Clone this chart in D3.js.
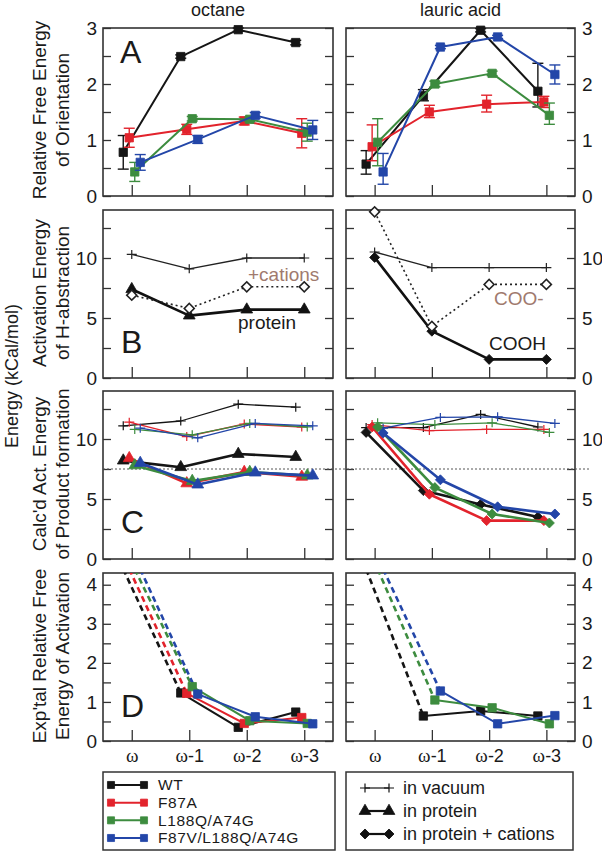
<!DOCTYPE html>
<html><head><meta charset="utf-8">
<script src="https://cdn.jsdelivr.net/npm/d3@7"></script>
<style>
body{margin:0;background:#fff}
svg{display:block}
text{font-family:"Liberation Sans",Arial,Helvetica,sans-serif;fill:#1a1a1a}
</style>
</head><body>
<svg id="c" width="602" height="852"></svg>
<script>
// ---------------- DATA ----------------
const categories = ["ω","ω-1","ω-2","ω-3"];
const mutants = ["WT","F87A","L188Q/A74G","F87V/L188Q/A74G"];
const mutantColors = ["#151515","#e2232c","#3d8c3f","#2346a8"];
const conditions = ["in vacuum","in protein","in protein + cations"];
const columnTitles = ["octane","lauric acid"];

// A: relative free energy of orientation
const orientOctane = [
  [0.78, 2.49, 2.97, 2.74],
  [1.04, 1.19, 1.34, 1.12],
  [0.43, 1.38, 1.37, 1.14],
  [0.60, 1.01, 1.44, 1.18]
];
const orientOctaneErr = [
  [0.30, 0.03, 0.03, 0.04],
  [0.17, 0.09, 0.07, 0.26],
  [0.17, 0.04, 0.04, 0.16],
  [0.14, 0.07, 0.05, 0.17]
];
const orientLauric = [
  [0.57, 1.79, 2.96, 1.87],
  [0.88, 1.50, 1.64, 1.68],
  [0.96, 2.00, 2.19, 1.44],
  [0.43, 2.66, 2.84, 2.17]
];
const orientLauricErr = [ // [below, above]
  [[0.18,0.24],[0.09,0.11],[0.03,0.03],[0.28,0.50]],
  [[0.25,0.39],[0.10,0.12],[0.14,0.16],[0.10,0.10]],
  [[0.42,0.42],[0.05,0.05],[0.04,0.04],[0.16,0.22]],
  [[0.22,0.33],[0.03,0.03],[0.03,0.03],[0.17,0.17]]
];

// B: activation energy of H-abstraction
const habsOctaneVacuum  = [10.3, 9.1, 10.0, 10.0];
const habsOctaneProtein = [7.4, 5.2, 5.7, 5.7];
const habsOctaneCations = [6.9, 5.8, 7.6, 7.6];
const habsLauricVacuum  = [10.5, 9.2, 9.2, 9.2];
const habsLauricCOOH    = [10.05, 3.9, 1.55, 1.55];
const habsLauricCOO     = [13.85, 4.3, 7.8, 7.8];

// C: calculated activation energy of product formation
const prodOctaneVacuum = [
  [11.1, 11.5, 12.9, 12.65],
  [11.4, 10.2, 11.25, 11.0],
  [10.8, 10.35, 11.3, 11.0],
  [10.9, 10.1, 11.3, 11.1]
];
const prodOctaneProtein = [
  [8.2, 7.65, 8.75, 8.5],
  [8.4, 6.3, 7.25, 6.85],
  [7.8, 6.5, 7.25, 6.95],
  [8.0, 6.2, 7.2, 6.95]
];
const prodLauricVacuum = [
  [10.95, 10.95, 12.05, 11.0],
  [11.2, 10.7, 10.8, 10.8],
  [11.35, 11.2, 11.35, 10.55],
  [10.9, 11.8, 11.85, 11.3]
];
const prodLauricCations = [
  [10.55, 5.7, 4.55, 3.5],
  [11.0, 5.4, 3.2, 3.2],
  [11.0, 5.95, 3.75, 3.0],
  [10.5, 6.6, 4.35, 3.75]
];
const prodReference = 7.5;

// D: experimental relative free energy of activation (ω is off scale)
const expOctane = [
  [4.4, 1.23, 0.35, 0.74],
  [4.4, 1.22, 0.45, 0.60],
  [4.4, 1.39, 0.52, 0.45],
  [4.4, 1.20, 0.62, 0.44]
];
const expLauric = [
  [4.4, 0.64, 0.77, 0.64],
  null,
  [4.4, 1.05, 0.85, 0.44],
  [4.4, 1.28, 0.44, 0.65]
];

// axis ticks
const ticksA = [0,0.5,1,1.5,2,2.5,3],   labelsA = [0,1,2,3];
const ticksBC = [0,2.5,5,7.5,10,12.5], labelsBC = [0,5,10];
const ticksD = [0,0.5,1,1.5,2,2.5,3,3.5,4], labelsD = [0,1,2,3,4];

// ---------------- LAYOUT ----------------
const svg = d3.select("#c");
const FONT = '"Liberation Sans",Arial,Helvetica,sans-serif';
const cols = [[103,333],[346,575]];
const rows = {A:[28,196], B:[210,378], C:[391,559], D:[573,741]};
const dodge = [-8.5,-2.5,3,8.5];
const brown = "#a07a6e";

const xs = cols.map(c => d3.scaleLinear().domain([-0.5,3.5]).range(c));
const yA = d3.scaleLinear().domain([0,3]).range([rows.A[1], rows.A[0]]);
const yB = d3.scaleLinear().domain([0,14]).range([rows.B[1], rows.B[0]]);
const yC = d3.scaleLinear().domain([0,14]).range([rows.C[1], rows.C[0]]);
const yD = d3.scaleLinear().domain([0,4.3]).range([rows.D[1], rows.D[0]]);

const defs = svg.append("defs");

function drawFrame(ci, r, y, ticks, labels, showX){
  const x = xs[ci];
  const g = svg.append("g");
  const fmt = (side) => d => (side===ci && labels.includes(d)) ? d : "";
  g.append("g").attr("transform",`translate(${cols[ci][0]},0)`)
    .call(d3.axisLeft(y).tickValues(ticks).tickSize(-8).tickPadding(6).tickFormat(fmt(0)));
  g.append("g").attr("transform",`translate(${cols[ci][1]},0)`)
    .call(d3.axisRight(y).tickValues(ticks).tickSize(-8).tickPadding(7).tickFormat(fmt(1)));
  const bx = g.append("g").attr("transform",`translate(0,${rows[r][1]})`)
    .call(d3.axisBottom(x).tickValues([0,1,2,3]).tickSize(-11).tickPadding(8)
      .tickFormat(d => showX ? categories[d] : ""));
  g.selectAll(".domain").remove();
  g.selectAll(".tick line").attr("stroke","#333").attr("stroke-width",1.3);
  g.selectAll(".tick text").attr("font-family",FONT).attr("font-size",19).attr("fill","#1a1a1a");
  if(showX){
    bx.selectAll(".tick text").attr("font-size",18).each(function(d){
      const t = d3.select(this); const s = categories[d];
      t.text(null);
      t.append("tspan").attr("font-family",'"Liberation Serif","Times New Roman",serif').attr("font-size",19).text(s[0]);
      if(s.length>1) t.append("tspan").text(s.slice(1));
    });
  }
  g.append("rect").attr("x",cols[ci][0]).attr("y",rows[r][0])
    .attr("width",cols[ci][1]-cols[ci][0]).attr("height",rows[r][1]-rows[r][0])
    .attr("fill","none").attr("stroke","#333").attr("stroke-width",1.6);
  const id = `clip${ci}${r}`;
  defs.append("clipPath").attr("id",id).append("rect")
    .attr("x",cols[ci][0]).attr("y",rows[r][0])
    .attr("width",cols[ci][1]-cols[ci][0]).attr("height",rows[r][1]-rows[r][0]);
  return id;
}

const shapes = {
  square: d3.symbol().type(d3.symbolSquare).size(70)(),
  squareSm: d3.symbol().type(d3.symbolSquare).size(50)(),
  triangle: d3.symbol().type(d3.symbolTriangle).size(60)(),
  diamond: d3.symbol().type(d3.symbolSquare).size(50)(),
  plus: "M-5,0H5M0,-4.5V4.5"
};

function drawMarkers(g, pts, shape, color, open){
  g.selectAll(null).data(pts).join("path")
    .attr("d", shapes[shape])
    .attr("transform", p => `translate(${p[0]},${p[1]})` + (shape==="diamond" ? " rotate(45)" : ""))
    .attr("fill", shape==="plus" ? "none" : (open ? "#fff" : color))
    .attr("stroke", color)
    .attr("stroke-width", shape==="plus" ? 1.2 : (open ? 1.6 : 0.8));
}

function drawSeries(ci, y, vals, o){
  const x = xs[ci];
  const off = o.dodge || 0;
  const pts = vals.map((v,i) => [x(i)+off, y(v)]);
  const g = svg.append("g");
  g.append("path").datum(pts)
    .attr("d", d3.line())
    .attr("fill","none").attr("stroke",o.color).attr("stroke-width",o.width)
    .attr("stroke-dasharray", o.dash || null).attr("stroke-linejoin","round");
  if(o.err){
    o.err.forEach((e,i) => {
      const lo = Array.isArray(e) ? e[0] : e, hi = Array.isArray(e) ? e[1] : e;
      const xx = x(i)+off, y1 = y(vals[i]-lo), y2 = y(vals[i]+hi);
      g.append("line").attr("x1",xx).attr("x2",xx).attr("y1",y1).attr("y2",y2)
        .attr("stroke",o.color).attr("stroke-width",1.4);
      [y1,y2].forEach(yy => g.append("line").attr("x1",xx-5.5).attr("x2",xx+5.5).attr("y1",yy).attr("y2",yy)
        .attr("stroke",o.color).attr("stroke-width",1.4));
    });
  }
  if(o.marker) drawMarkers(g, pts, o.marker, o.color, o.open);
}

// ---------------- PANELS ----------------
// A
drawFrame(0,"A",yA,ticksA,labelsA,false);
drawFrame(1,"A",yA,ticksA,labelsA,false);
[orientOctane, orientLauric].forEach((set,ci) => {
  const errs = ci===0 ? orientOctaneErr : orientLauricErr;
  set.forEach((vals,si) => drawSeries(ci, yA, vals,
    {color:mutantColors[si], width:2, dodge:dodge[si], marker:"square", err:errs[si]}));
});

// B
drawFrame(0,"B",yB,ticksBC,labelsBC,false);
drawFrame(1,"B",yB,ticksBC,labelsBC,false);
drawSeries(0,yB,habsOctaneVacuum,{color:"#222",width:1.3,marker:"plus"});
drawSeries(0,yB,habsOctaneProtein,{color:"#111",width:2.6,marker:"triangle"});
drawSeries(0,yB,habsOctaneCations,{color:"#222",width:1.6,dash:"2,3",marker:"diamond",open:true});
drawSeries(1,yB,habsLauricVacuum,{color:"#222",width:1.3,marker:"plus"});
drawSeries(1,yB,habsLauricCOOH,{color:"#111",width:2.6,marker:"diamond"});
drawSeries(1,yB,habsLauricCOO,{color:"#222",width:1.6,dash:"2,3",marker:"diamond",open:true});

// C
drawFrame(0,"C",yC,ticksBC,labelsBC,false);
drawFrame(1,"C",yC,ticksBC,labelsBC,false);
svg.append("line").attr("x1",cols[0][0]).attr("x2",589)
  .attr("y1",yC(prodReference)).attr("y2",yC(prodReference))
  .attr("stroke","#555").attr("stroke-width",1).attr("stroke-dasharray","2,2");
prodOctaneVacuum.forEach((v,si) => drawSeries(0,yC,v,{color:mutantColors[si],width:1.3,dodge:dodge[si],marker:"plus"}));
prodOctaneProtein.forEach((v,si) => drawSeries(0,yC,v,{color:mutantColors[si],width:2.6,dodge:dodge[si],marker:"triangle"}));
prodLauricVacuum.forEach((v,si) => drawSeries(1,yC,v,{color:mutantColors[si],width:1.3,dodge:dodge[si],marker:"plus"}));
prodLauricCations.forEach((v,si) => drawSeries(1,yC,v,{color:mutantColors[si],width:2.6,dodge:dodge[si],marker:"diamond"}));

// D
[expOctane, expLauric].forEach((set,ci) => {
  const clip = drawFrame(ci,"D",yD,ticksD,labelsD,true);
  set.forEach((vals,si) => {
    if(!vals) return;
    const x = xs[ci], off = dodge[si];
    const pts = vals.map((v,i) => [x(i)+off, yD(v)]);
    svg.append("path").attr("clip-path",`url(#${clip})`)
      .attr("d", d3.line()(pts.slice(0,2)))
      .attr("fill","none").attr("stroke",mutantColors[si]).attr("stroke-width",2.6)
      .attr("stroke-dasharray","6,4");
  });
  set.forEach((vals,si) => {
    if(!vals) return;
    const x = xs[ci], off = dodge[si];
    const pts = vals.map((v,i) => [x(i)+off, yD(v)]).slice(1);
    const g = svg.append("g");
    g.append("path").attr("d", d3.line()(pts)).attr("fill","none")
      .attr("stroke",mutantColors[si]).attr("stroke-width",2);
    drawMarkers(g, pts, "square", mutantColors[si], false);
  });
});

// ---------------- TEXT ----------------
columnTitles.forEach((t,ci) => svg.append("text")
  .attr("x",(cols[ci][0]+cols[ci][1])/2).attr("y",16)
  .attr("text-anchor","middle").attr("font-size",18).text(t));

[["A",120,63],["B",121,353],["C",121,533],["D",121,717]].forEach(([t,x,y]) =>
  svg.append("text").attr("x",x).attr("y",y).attr("font-size",32).text(t));

svg.append("text").attr("x",248).attr("y",281).attr("font-size",19).style("fill",brown).text("+cations");
svg.append("text").attr("x",238).attr("y",329).attr("font-size",19).text("protein");
svg.append("text").attr("x",494).attr("y",305).attr("font-size",19).style("fill",brown).text("COO-");
svg.append("text").attr("x",489).attr("y",350).attr("font-size",19).text("COOH");

const yTitles = [
  ["Relative Free Energy","of Orientation",110],
  ["Activation Energy","of H-abstraction",293],
  ["Calc'd Act. Energy","of Product formation",474],
  ["Exp'tal Relative Free","Energy of Activation",656]
];
yTitles.forEach(([a,b,cy]) => {
  [[a,39],[b,62]].forEach(([t,x]) => svg.append("text")
    .attr("transform",`translate(${x},${cy}) rotate(-90)`)
    .attr("text-anchor","middle").attr("dominant-baseline","central")
    .attr("font-size",19).text(t));
});
svg.append("text").attr("transform","translate(12,376) rotate(-90)")
  .attr("text-anchor","middle").attr("dominant-baseline","central")
  .attr("font-size",18).text("Energy (kCal/mol)");

// ---------------- LEGENDS ----------------
svg.append("rect").attr("x",103).attr("y",772).attr("width",232).attr("height",78)
  .attr("fill","none").attr("stroke","#333").attr("stroke-width",1.5);
svg.append("rect").attr("x",346).attr("y",772).attr("width",227).attr("height",78)
  .attr("fill","none").attr("stroke","#333").attr("stroke-width",1.5);

const legY1 = d3.scalePoint().domain(mutants).range([785,838]);
mutants.forEach((m,si) => {
  const yy = legY1(m), g = svg.append("g");
  g.append("line").attr("x1",111).attr("x2",144).attr("y1",yy).attr("y2",yy)
    .attr("stroke",mutantColors[si]).attr("stroke-width",2);
  drawMarkers(g, [[111,yy],[144,yy]], "squareSm", mutantColors[si], false);
  g.append("text").attr("x",158).attr("y",yy).attr("dy","0.35em").attr("font-size",15.5)
    .attr("letter-spacing",0.6).text(m);
});
const legY2 = d3.scalePoint().domain(conditions).range([788,834]);
const legShapes = ["plus","triangle","diamond"];
conditions.forEach((c,k) => {
  const yy = legY2(c), g = svg.append("g");
  g.append("line").attr("x1",365).attr("x2",389).attr("y1",yy).attr("y2",yy)
    .attr("stroke","#111").attr("stroke-width",k===0?1.2:2.2);
  drawMarkers(g, [[365,yy],[389,yy]], legShapes[k], "#111", false);
  g.append("text").attr("x",403).attr("y",yy).attr("dy","0.35em").attr("font-size",18).text(c);
});
</script>
</body></html>
